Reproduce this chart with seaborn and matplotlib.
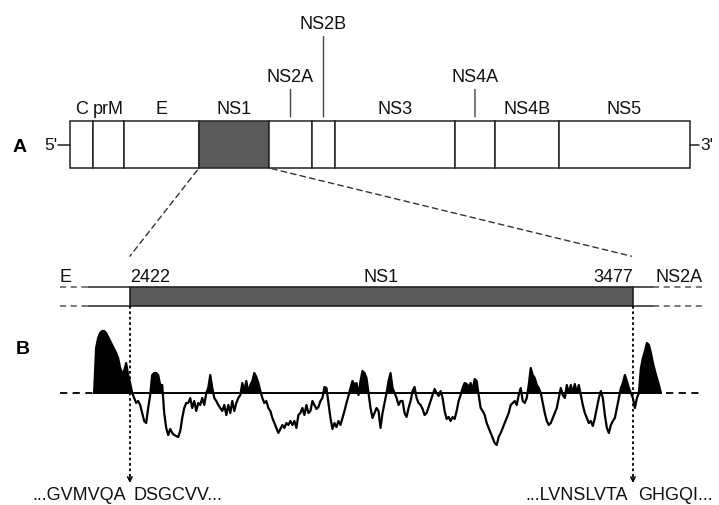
import matplotlib.pyplot as plt
import numpy as np
import pandas as pd
import seaborn as sns
from matplotlib.patches import ConnectionPatch


# panel A: genome map, drawn widths of each region (map is not to scale)
GENES = ['C', 'prM', 'E', 'NS1', 'NS2A', 'NS2B', 'NS3', 'NS4A', 'NS4B', 'NS5']
GENE_WIDTHS = [23, 31, 75, 70, 43, 23, 120, 40, 64, 131]
LABEL_TIER = [0, 0, 0, 0, 1, 2, 0, 1, 0, 0]  # 1, 2 = raised label with leader line

# panel B: the NS1 region expanded, nucleotide coordinates
NS1_START, NS1_END = 2422, 3477
LEFT_FLANK = ('E', 2275, 2334)       # label, dashed from, solid from
RIGHT_FLANK = ('NS2A', 3519, 3622)   # label, solid to, dashed to
SEQ_LEFT = ('...GVMVQA', 'DSGCVV...')
SEQ_RIGHT = ('...LVNSLVTA', 'GHGQI...')

# hydropathy profile (arbitrary units), first window position and spacing in nt
PROFILE_START = 2347
PROFILE_STEP = 4.2
HYDROPATHY = [
    0, 45, 55, 60, 62, 62, 60, 56, 52, 48, 44, 40, 35, 25, 20, 22, 30, 18, 10,
    0, -5, -10, -8, -12, -20, -28, -30, -15, -2, 18, 20, 20, 18, 8, 8, -20, -35, -42, -36,
    -40, -42, -43, -44, -38, -25, -15, -10, -10, -5,
    -15, -8, -18, -10, -12, -5, -12, 0, 5, 18, 5, -5, -8, -12, -15, -18, -12, -22, -12, -20,
    -8, -18, -10, -5, -2, 10, 2, 12, 0, 8,
    12, 20, 16, 10, 2, -5, -10, -8, -15, -18, -25, -30, -35, -40, -36, -32, -35, -30, -32, -28,
    -32, -28, -35, -22, -20, -15, -22, -12, -20, -18,
    -8, -12, -16, -14, -8, -5, 6, 5, -10, -25, -36, -30, -34, -28, -32, -25, -18, -10, -3, 5,
    12, 8, 10, -2, 12, 22, 20, 15, 0, -15,
    -25, -20, -15, -18, -35, -20, -10, 0, 12, 20, 5, 0, -5, -12, -8, -8, -20, -24, -15, -8,
    2, 6, -5, -10, -12, -16, -22, -20, -14, -8,
    -2, 4, 0, -3, 2, -5, -18, -26, -24, -28, -24, -26, -18, -8, -2, 5, 10, 9, 6, 10,
    3, 14, 12, -2, -15, -18, -22, -30, -35, -40,
    -45, -50, -52, -44, -40, -35, -30, -25, -20, -12, -10, -8, -12, -2, 5, -8, -10, -5, 8, 25,
    18, 15, 8, 5, 0, -10, -20, -28, -32, -30,
    -25, -20, -15, -5, 5, -2, -5, 8, 0, 8, 0, 9, 0, 8, -2, -12, -20, -25, -30, -28,
    -33, -25, -15, -5, 2, -5, -22, -35, -40, -32,
    -28, -25, -15, -5, 5, 10, 18, 12, 5, 0, -5, -15, -5, 0, 25, 35, 42, 50, 48, 40,
    30, 22, 15, 8, 0,
]

W, H = 719, 506
DARK = '#5a5a5a'
LINE = '#222222'
DASH = (0, (4, 3))

sns.set_theme(style='white')
plt.rcParams['font.family'] = ['Liberation Sans', 'DejaVu Sans']
plt.rcParams['font.size'] = 13
plt.rcParams['text.color'] = '#111111'

fig = plt.figure(figsize=(W / 100, H / 100), dpi=100)


def px_axes(left, top, right, bottom):
    ax = fig.add_axes([left / W, 1 - bottom / H, (right - left) / W, (bottom - top) / H])
    ax.set_axis_off()
    return ax


# ---- panel A: genome map ----
ax_map = px_axes(70, 122, 690, 169)
starts = np.concatenate([[0], np.cumsum(GENE_WIDTHS)[:-1]])
colors = [DARK if g == 'NS1' else 'white' for g in GENES]
ax_map.barh(0.5, GENE_WIDTHS, left=starts, height=1, color=colors,
            edgecolor=LINE, linewidth=1.1, clip_on=False)
ax_map.set_xlim(0, sum(GENE_WIDTHS))
ax_map.set_ylim(0, 1)

tier_rise = {0: 6, 1: 29, 2: 67}  # points above the box
for g, s, w, tier in zip(GENES, starts, GENE_WIDTHS, LABEL_TIER):
    arrow = None
    if tier:
        arrow = dict(arrowstyle='-', color='#444444', lw=1, shrinkA=1, shrinkB=3)
    ax_map.annotate(g, xy=(s + w / 2, 1), xytext=(0, tier_rise[tier]),
                    textcoords='offset points', ha='center', va='baseline',
                    arrowprops=arrow, annotation_clip=False)

# 5' / 3' ends
ax_map.plot([-12, 0], [0.5, 0.5], color=LINE, lw=1.1, clip_on=False)
ax_map.plot([620, 629], [0.5, 0.5], color=LINE, lw=1.1, clip_on=False)
ax_map.text(-13, 0.5, "5'", ha='right', va='center', size=12.5)
ax_map.text(630, 0.5, "3'", ha='left', va='center', size=12.5)
fig.text(20 / W, 1 - 148 / H, 'A', weight='bold', size=14, ha='center', va='center',
         color='black')
fig.text(23 / W, 1 - 350 / H, 'B', weight='bold', size=14, ha='center', va='center',
         color='black')

# ---- panel B: expanded NS1 bar ----
xlim = (2265, 3628)
ax_bar = px_axes(55, 288, 705, 307)
ax_bar.set_xlim(xlim)
ax_bar.set_ylim(0, 1)
ax_bar.barh(0.5, NS1_END - NS1_START, left=NS1_START, height=1, color=DARK,
            edgecolor=LINE, linewidth=1.2, clip_on=False)
lab_l, dash_l, solid_l = LEFT_FLANK
lab_r, solid_r, dash_r = RIGHT_FLANK
for y in (0, 1):
    ax_bar.plot([solid_l, NS1_START], [y, y], color=LINE, lw=1.1, clip_on=False)
    ax_bar.plot([dash_l, solid_l], [y, y], color='#555555', lw=1.1, ls=DASH, clip_on=False)
    ax_bar.plot([NS1_END, solid_r], [y, y], color=LINE, lw=1.1, clip_on=False)
    ax_bar.plot([solid_r, dash_r], [y, y], color='#555555', lw=1.1, ls=DASH, clip_on=False)

bar_labels = [(lab_l, dash_l, 'left'), (str(NS1_START), NS1_START, 'left'),
              ('NS1', (NS1_START + NS1_END) / 2, 'center'),
              (str(NS1_END), NS1_END, 'right'), (lab_r, dash_r, 'right')]
for txt, x, ha in bar_labels:
    ax_bar.annotate(txt, xy=(x, 1), xytext=(0, 4.5), textcoords='offset points',
                    ha=ha, va='baseline', annotation_clip=False)

# dashed lines linking NS1 on the map to the expanded bar
ns1_idx = GENES.index('NS1')
for xa, xb in [(starts[ns1_idx], NS1_START),
               (starts[ns1_idx] + GENE_WIDTHS[ns1_idx], NS1_END - 3)]:
    con = ConnectionPatch(xyA=(xa, 0), coordsA=ax_map.transData,
                          xyB=(xb, 2.62), coordsB=ax_bar.transData,
                          color='#333333', lw=1, ls=DASH, shrinkA=2, shrinkB=0)
    fig.add_artist(con)

# ---- panel B: hydropathy profile ----
ax_prof = px_axes(55, 320, 705, 460)
prof = pd.DataFrame({
    'nt': PROFILE_START + PROFILE_STEP * np.arange(len(HYDROPATHY)),
    'hydropathy': HYDROPATHY,
})
ax_prof.fill_between(prof['nt'], prof['hydropathy'], 0, where=prof['hydropathy'] > 0,
                     interpolate=True, color='black', lw=0)
sns.lineplot(data=prof, x='nt', y='hydropathy', ax=ax_prof, estimator=None,
             color='black', lw=1.6)
ax_prof.set_axis_off()
ax_prof.set_xlim(xlim)
ax_prof.set_ylim(-66, 74)
p0, p1 = prof['nt'].iloc[0], prof['nt'].iloc[-1]
ax_prof.plot([p0, p1], [0, 0], color='black', lw=1.4)
ax_prof.plot([dash_l, p0], [0, 0], color='black', lw=1.3, ls=DASH)
ax_prof.plot([p1 + 10, dash_r], [0, 0], color='black', lw=1.3, ls=DASH)

# cleavage-site arrows and flanking sequences
for x, (left_seq, right_seq), off in [(NS1_START, SEQ_LEFT, 2.5), (NS1_END, SEQ_RIGHT, 4)]:
    ax_prof.plot([x, x], [87, -84], color='black', lw=1.3, ls=(0, (1.5, 1.5)), clip_on=False)
    ax_prof.annotate('', xy=(x, -90), xytext=(x, -83),
                     arrowprops=dict(arrowstyle='->', color='black', lw=1.1,
                                     mutation_scale=8, shrinkA=0, shrinkB=0),
                     annotation_clip=False)
    ax_prof.annotate(left_seq, xy=(x, -106), xytext=(-off, 0), textcoords='offset points',
                     ha='right', va='baseline', annotation_clip=False)
    ax_prof.annotate(right_seq, xy=(x, -106), xytext=(off, 0), textcoords='offset points',
                     ha='left', va='baseline', annotation_clip=False)

fig.savefig('out.png', dpi=100, facecolor='white')
